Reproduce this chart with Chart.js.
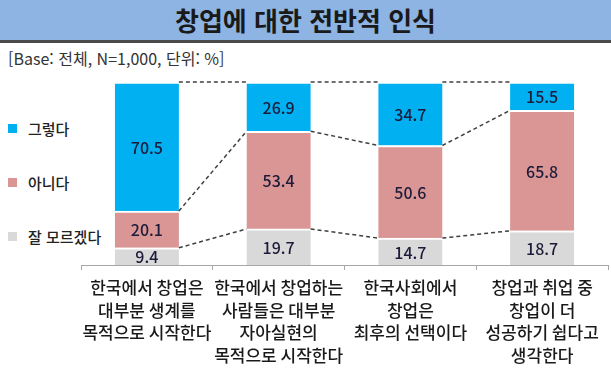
<!DOCTYPE html>
<html lang="ko">
<head>
<meta charset="utf-8">
<script src="https://cdn.jsdelivr.net/npm/chart.js@4"></script>
<style>
  body { margin: 0; width: 611px; height: 375px; background: #fff; position: relative; overflow: hidden;
         font-family: "Noto Sans CJK KR", "Noto Sans", sans-serif; }
  .titleBar { position: absolute; left: 0; top: 0; width: 611px; height: 40px; background: #8db4e2;
              border-bottom: 3px solid #4a4a4a; text-align: center; font-size: 26px; font-weight: bold;
              line-height: 40px; color: #1a1a1a; }
  .sub { position: absolute; left: 8px; top: 46px; font-size: 16px; color: #333; }
  .legend { position: absolute; left: 8px; font-size: 15px; font-weight: 500; color: #222; display: flex; align-items: center; }
  .legend span.box { width: 9px; height: 9px; display: inline-block; margin-right: 11px; }
  #chart { position: absolute; left: 0; top: 0; }
</style>
</head>
<body>
<div class="titleBar">창업에 대한 전반적 인식</div>
<div class="sub">[Base: 전체, N=1,000, 단위: %]</div>
<div id="legend"></div>
<canvas id="chart" width="611" height="375"></canvas>
<script>
const categories = [
  ['한국에서 창업은', '대부분 생계를', '목적으로 시작한다'],
  ['한국에서 창업하는', '사람들은 대부분', '자아실현의', '목적으로 시작한다'],
  ['한국사회에서', '창업은', '최후의 선택이다'],
  ['창업과 취업 중', '창업이 더', '성공하기 쉽다고', '생각한다']
];
const yesValues = [70.5, 26.9, 34.7, 15.5];
const noValues = [20.1, 53.4, 50.6, 65.8];
const dkValues = [9.4, 19.7, 14.7, 18.7];
const seriesNames = ['그렇다', '아니다', '잘 모르겠다'];
const seriesColors = ['#00b0f0', '#da9694', '#d9d9d9'];

// legend, top to bottom
const legendTops = [118, 172, 226];
const legendBox = document.getElementById('legend');
seriesNames.forEach((name, i) => {
  const item = document.createElement('div');
  item.className = 'legend';
  item.style.top = legendTops[i] + 'px';
  item.innerHTML = `<span class="box" style="background:${seriesColors[i]}"></span><span>${name}</span>`;
  legendBox.appendChild(item);
});

// dashed lines between stacked segments of neighbouring bars
const connectorPlugin = {
  id: 'connectors',
  afterDatasetsDraw(chart) {
    const ctx = chart.ctx;
    ctx.save();
    ctx.strokeStyle = '#404040';
    ctx.lineWidth = 1.5;
    ctx.setLineDash([4, 3]);
    chart.data.datasets.forEach((ds, d) => {
      const bars = chart.getDatasetMeta(d).data;
      for (let i = 0; i < bars.length - 1; i++) {
        const a = bars[i], b = bars[i + 1];
        ctx.beginPath();
        ctx.moveTo(a.x + a.width / 2, a.y);
        ctx.lineTo(b.x - b.width / 2, b.y);
        ctx.stroke();
      }
    });
    ctx.restore();
  }
};

const valueLabelPlugin = {
  id: 'valueLabels',
  afterDatasetsDraw(chart) {
    const ctx = chart.ctx;
    ctx.save();
    ctx.font = '500 16px "Noto Sans CJK KR", sans-serif';
    ctx.fillStyle = '#1c1c3a';
    ctx.textAlign = 'center';
    ctx.textBaseline = 'middle';
    chart.data.datasets.forEach((ds, d) => {
      chart.getDatasetMeta(d).data.forEach((bar, i) => {
        ctx.fillText(ds.data[i].toFixed(1), bar.x, (bar.y + bar.base) / 2 + 1);
      });
    });
    ctx.restore();
  }
};

new Chart(document.getElementById('chart').getContext('2d'), {
  type: 'bar',
  data: {
    labels: categories,
    datasets: [
      { label: seriesNames[2], data: dkValues, backgroundColor: seriesColors[2] },
      { label: seriesNames[1], data: noValues, backgroundColor: seriesColors[1] },
      { label: seriesNames[0], data: yesValues, backgroundColor: seriesColors[0] }
    ].map(ds => Object.assign(ds, {
      borderColor: '#ffffff',
      borderWidth: { top: 2, left: 0, right: 0, bottom: 0 },
      borderSkipped: false,
      barThickness: 64
    }))
  },
  options: {
    responsive: false,
    animation: false,
    layout: { padding: { left: 81, right: 3, top: 82, bottom: 0 } },
    plugins: {
      legend: { display: false },
      tooltip: { enabled: false }
    },
    scales: {
      x: {
        stacked: true,
        afterFit: (scale) => { scale.height = 110; },
        grid: { drawOnChartArea: false, drawTicks: true, tickLength: 5, color: '#a6a6a6', offset: true },
        border: { display: true, color: '#a6a6a6' },
        ticks: {
          padding: 6,
          color: '#1a1a1a',
          maxRotation: 0,
          autoSkip: false,
          font: { size: 17, weight: '500', family: '"Noto Sans CJK KR", sans-serif', lineHeight: 1.34 }
        }
      },
      y: { stacked: true, display: false, min: 0, max: 100 }
    }
  },
  plugins: [connectorPlugin, valueLabelPlugin]
});
</script>
</body>
</html>
